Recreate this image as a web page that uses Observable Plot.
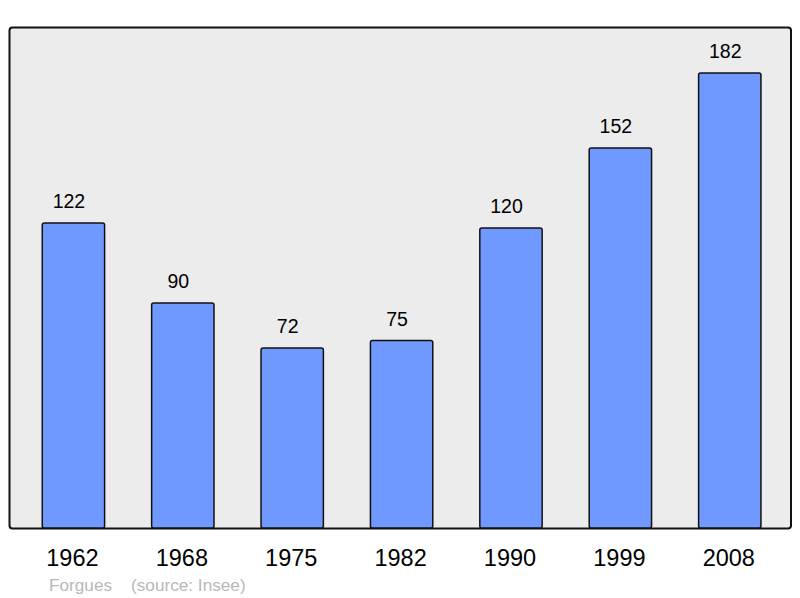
<!DOCTYPE html>
<html>
<head>
<meta charset="utf-8">
<script src="https://cdn.jsdelivr.net/npm/d3@7"></script>
<script src="https://cdn.jsdelivr.net/npm/@observablehq/plot@0.6"></script>
<style>
  html, body { margin: 0; padding: 0; background: #ffffff; }
  #wrap { position: relative; width: 800px; height: 598px; font-family: "Liberation Sans", Arial, sans-serif; }
  #caption { position: absolute; left: 49px; top: 577px; font-size: 17.2px; line-height: 16px; color: #b8b8b8; white-space: nowrap; }
  #caption span.src { position: absolute; left: 82px; }
</style>
</head>
<body>
<div id="wrap">
  <div id="chart"></div>
  <div id="caption"><span>Forgues</span><span class="src">(source: Insee)</span></div>
</div>
<script>
const years = ["1962", "1968", "1975", "1982", "1990", "1999", "2008"];
const population = [122, 90, 72, 75, 120, 152, 182];

const data = years.map((year, i) => ({year, value: population[i]}));

const chart = Plot.plot({
  width: 800,
  height: 570,
  marginTop: 27,
  marginBottom: 42,
  marginLeft: 9,
  marginRight: 9.5,
  style: {fontFamily: "'Liberation Sans', Arial, sans-serif", background: "transparent"},
  x: {domain: years, range: [42.25, 760.95], paddingInner: 0.43, paddingOuter: 0, round: false, label: null},
  y: {domain: [0, 200], range: [528, 28], axis: null},
  marks: [
    Plot.frame({fill: "#ececec", stroke: "#111", strokeWidth: 2, rx: 3}),
    Plot.barY(data, {x: "year", y: "value", fill: "#7099ff", stroke: "#111", strokeWidth: 1.5, rx: 2}),
    Plot.text(data, {x: "year", y: "value", text: d => String(d.value), lineAnchor: "bottom", dx: -5, dy: -15.5, fontSize: 19.5, fill: "#000"}),
    Plot.axisX({tickSize: 0, tickPadding: 21, dx: -1.5, fontSize: 23.5, label: null, color: "#000"})
  ]
});
document.getElementById("chart").appendChild(chart);
</script>
</body>
</html>
